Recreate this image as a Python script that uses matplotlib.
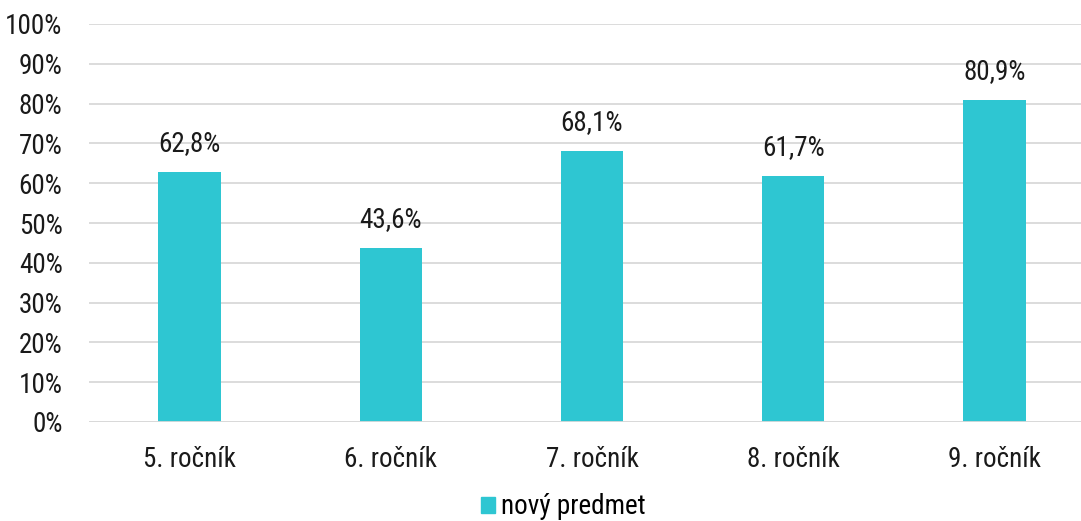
import matplotlib
matplotlib.use("Agg")
import matplotlib.pyplot as plt
from matplotlib.patches import Patch
from matplotlib import font_manager as fm

categories = ["5. ročník", "6. ročník", "7. ročník", "8. ročník", "9. ročník"]
values = [62.8, 43.6, 68.1, 61.7, 80.9]
labels = ["62,8%", "43,6%", "68,1%", "61,7%", "80,9%"]
yticks = [0, 10, 20, 30, 40, 50, 60, 70, 80, 90, 100]
series_name = "nový predmet"

names = sorted({f.name for f in fm.fontManager.ttflist})
fam = 'Roboto Condensed' if 'Roboto Condensed' in names else 'Roboto'
plt.rcParams['font.family'] = [fam, 'DejaVu Sans']
plt.rcParams['font.stretch'] = 'condensed'
color = "#2EC6D2"
fs = 19.5

fig = plt.figure(figsize=(10.81, 5.21), dpi=100)
ax = fig.add_axes([89/1081, (521-422)/521, (1081-89)/1081, (422-24)/521])
x = list(range(len(categories)))
ax.bar(x, values, width=0.31, color=color, zorder=3)
for xi, v, lab in zip(x, values, labels):
    ax.annotate(lab, (xi, v), xytext=(0, 11), textcoords="offset points",
                ha="center", va="bottom", fontsize=fs, color="#1a1a1a")
ax.set_xlim(-0.5, 4.43)
ax.set_ylim(0, 100)
ax.set_yticks(yticks)
ax.set_yticklabels([f"{t}%" for t in yticks], fontsize=fs, color="#1a1a1a")
ax.set_xticks(x)
ax.set_xticklabels(categories, fontsize=fs, color="#1a1a1a")
ax.tick_params(axis="both", length=0)
ax.tick_params(axis="y", pad=19)
ax.tick_params(axis="x", pad=17)
ax.grid(axis="y", color="#d9d9d9", linewidth=1.3, zorder=0)
for s in ax.spines.values():
    s.set_visible(False)
ax.axhline(0, color="#d9d9d9", linewidth=1.3, zorder=4)

fig.legend(handles=[Patch(color=color, label=series_name)], loc="center",
           bbox_to_anchor=(563/1081, 1-507/521), frameon=False, fontsize=fs,
           borderaxespad=0, borderpad=0,
           handlelength=0.55, handleheight=0.55, handletextpad=0.2)
fig.savefig("out.png", dpi=100, facecolor="white")
